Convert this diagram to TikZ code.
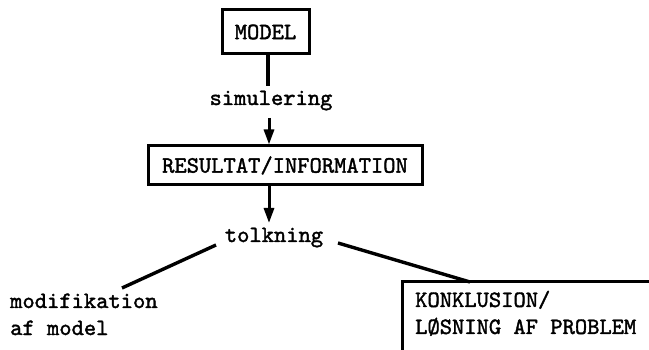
\documentclass[tikz,border=0pt]{standalone}
\usepackage{fontspec}
\usetikzlibrary{arrows.meta}
% typewriter face, thickened to carry the weight of inked type
\newfontfamily\typewriter{lmmono10-regular.otf}[FakeBold=1.6]
\begin{document}
\begin{tikzpicture}[x=1pt,y=-1pt,
  every node/.style={font=\typewriter\fontsize{23.4}{28}\selectfont, inner sep=0pt},
  framed/.style={draw, line width=3pt},
  link/.style={line width=3.4pt},
  flow/.style={line width=3pt, -{Triangle[width=10pt,length=15pt]}},
  lbl/.style={anchor=base west}]
\useasboundingbox (0,0) rectangle (649,350);
\clip (0,0) rectangle (649,350);

% main chain
\node[framed, minimum width=87pt, minimum height=44pt] (model) at (265.5,32) {MODEL};
\node[anchor=base] (sim) at (271,105) {simulering};
\node[framed, minimum width=274pt, minimum height=39pt] (res) at (285,165.5) {RESULTAT/INFORMATION};
\node[anchor=base] (tolk) at (274,242) {tolkning};

\draw[link] (model.south -| 268,0) -- (268,86);
\draw[flow] (269,118) -- (res.north -| 269,0);
\draw[flow] (res.south -| 269,0) -- (269,223);

% outcomes
\node[lbl] (modif) at (10,308) {modifikation};
\node[lbl] (afmod) at (10,335) {af model};
\node[lbl] (konk) at (415,307) {KONKLUSION/};
\node[lbl] (loes) at (415,334) {LØSNING AF PROBLEM};

\coordinate (tl) at (216,245);
\coordinate (ml) at (122,288);
\coordinate (tr) at (338,243);
\coordinate (kr) at (470,282);
\draw[link] (tl) -- (ml);
\draw[link] (tr) -- (kr);

% open frame running off the page
\draw[framed] (402,360) -- (402,282) -- (660,282);
\end{tikzpicture}
\end{document}
